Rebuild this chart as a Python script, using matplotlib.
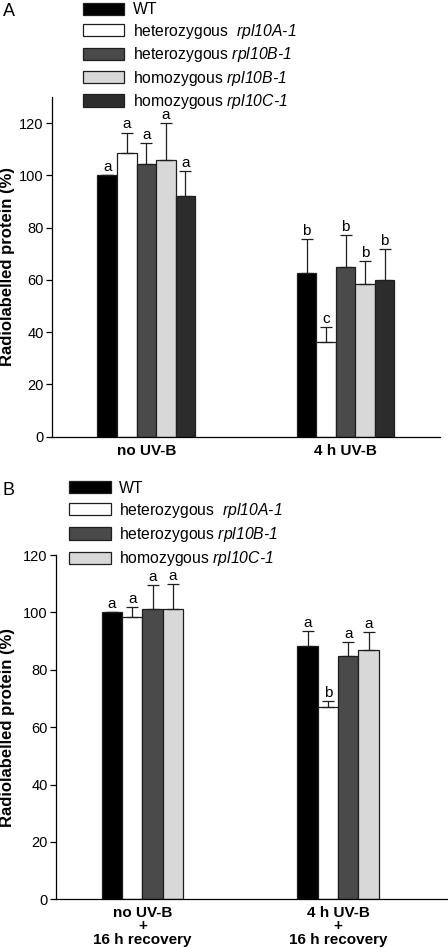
#!/usr/bin/env python3

import matplotlib
matplotlib.use('Agg')
import matplotlib.pyplot as plt
from matplotlib.patches import Patch
import numpy as np


plt.rcParams['font.family'] = ['Liberation Sans', 'DejaVu Sans']
# only the gene names sit in math mode, so make the whole of it italic
plt.rcParams['mathtext.fontset'] = 'custom'
plt.rcParams['mathtext.rm'] = 'Liberation Sans:italic'
plt.rcParams['mathtext.it'] = 'Liberation Sans:italic'
plt.rcParams['mathtext.bf'] = 'Liberation Sans:bold'

#
# data (percent of WT)
#

# panel A
a_groups = ['no UV-B', '4 h UV-B']
a_lines = ['WT',
           'heterozygous  $\\mathrm{rpl10A\\text{-}1}$',
           'heterozygous $\\mathrm{rpl10B\\text{-}1}$',
           'homozygous $\\mathrm{rpl10B\\text{-}1}$',
           'homozygous $\\mathrm{rpl10C\\text{-}1}$']
a_means = [[100.0, 108.4, 104.3, 105.9, 92.2],
           [62.7, 36.1, 64.8, 58.5, 60.1]]
a_err = [[0.0, 8.0, 8.2, 14.2, 9.6],
         [13.0, 5.8, 12.5, 8.6, 11.7]]
a_letters = [['a', 'a', 'a', 'a', 'a'],
             ['b', 'c', 'b', 'b', 'b']]

# panel B
b_groups = ['no UV-B\n+\n16 h recovery', '4 h UV-B\n+\n16 h recovery']
b_lines = ['WT',
           'heterozygous  $\\mathrm{rpl10A\\text{-}1}$',
           'heterozygous $\\mathrm{rpl10B\\text{-}1}$',
           'homozygous $\\mathrm{rpl10C\\text{-}1}$']
b_means = [[100.0, 98.5, 101.3, 101.3],
           [88.3, 67.0, 84.9, 87.0]]
b_err = [[0.0, 3.5, 8.3, 8.6],
         [5.1, 2.2, 4.7, 6.2]]
b_letters = [['a', 'a', 'a', 'a'],
             ['a', 'b', 'a', 'a']]

a_colors = ['#000000', '#ffffff', '#4a4a4a', '#d8d8d8', '#2c2c2c']
b_colors = ['#000000', '#ffffff', '#4a4a4a', '#d8d8d8']

EDGE = '#1e1e1e'


def draw_panel(ax, groups, lines, means, errs, letters, colors, width):
    means = np.array(means)
    errs = np.array(errs)
    n = len(lines)
    x = np.arange(len(groups))
    for i in range(n):
        xi = x + (i - (n - 1) / 2.0) * width
        ax.bar(xi, means[:, i], width, color=colors[i], edgecolor=EDGE,
               linewidth=0.9, zorder=2)
        ax.errorbar(xi, means[:, i], yerr=[np.zeros(len(x)), errs[:, i]],
                    fmt='none', ecolor=EDGE, elinewidth=0.9, capsize=4.3,
                    capthick=0.9, zorder=3)
        for g in range(len(groups)):
            ax.annotate(letters[g][i], (xi[g], means[g, i] + errs[g, i]),
                        xytext=(0, 0.8), textcoords='offset points',
                        ha='center', va='bottom', fontsize=11)

    ax.set_xticks(x)
    ax.set_xticklabels(groups, fontweight='bold', fontsize=11,
                       linespacing=0.92)
    ax.tick_params(axis='x', length=0, pad=5)
    ax.tick_params(axis='y', direction='out', length=4, width=0.9,
                   labelsize=10.5, pad=2)
    ax.set_yticks(range(0, 121, 20))
    ax.spines['top'].set_visible(False)
    ax.spines['right'].set_visible(False)
    ax.spines['left'].set_linewidth(0.9)
    ax.spines['bottom'].set_linewidth(0.9)
    ax.set_ylabel('Radiolabelled protein (%)', fontweight='bold', fontsize=12)

    handles = [Patch(facecolor=c, edgecolor=EDGE, linewidth=0.9) for c in colors]
    return handles


fig = plt.figure(figsize=(4.48, 9.49), dpi=100)

# panel A
ax_a = fig.add_axes([0.1161, 0.5398, 0.8661, 0.358])
h = draw_panel(ax_a, a_groups, a_lines, a_means, a_err, a_letters, a_colors, 0.098)
ax_a.set_xlim(-0.473, 1.474)
ax_a.set_ylim(0, 130)
ax_a.yaxis.set_label_coords(-0.095, 0.5)
fig.legend(h, a_lines, loc='upper left', bbox_to_anchor=(0.1853, 0.9975),
           bbox_transform=fig.transFigure, frameon=False, fontsize=11.3,
           handlelength=2.6, handleheight=0.83, handletextpad=0.58,
           labelspacing=0.28, borderpad=0, borderaxespad=0)
fig.text(3 / 448, 1 - 3 / 949, 'A', fontsize=13, ha='left', va='top')

# panel B
ax_b = fig.add_axes([0.125, 0.05227, 0.8728, 0.3629])
h = draw_panel(ax_b, b_groups, b_lines, b_means, b_err, b_letters, b_colors, 0.104)
ax_b.set_xlim(-0.442, 1.557)
ax_b.set_ylim(0, 120)
ax_b.yaxis.set_label_coords(-0.105, 0.5)
fig.legend(h, b_lines, loc='upper left', bbox_to_anchor=(0.154, 0.4936),
           bbox_transform=fig.transFigure, frameon=False, fontsize=11.3,
           handlelength=2.68, handleheight=0.83, handletextpad=0.53,
           labelspacing=0.33, borderpad=0, borderaxespad=0)
fig.text(3 / 448, 1 - 482 / 949, 'B', fontsize=13, ha='left', va='top')

plt.savefig('out.png', dpi=100)
